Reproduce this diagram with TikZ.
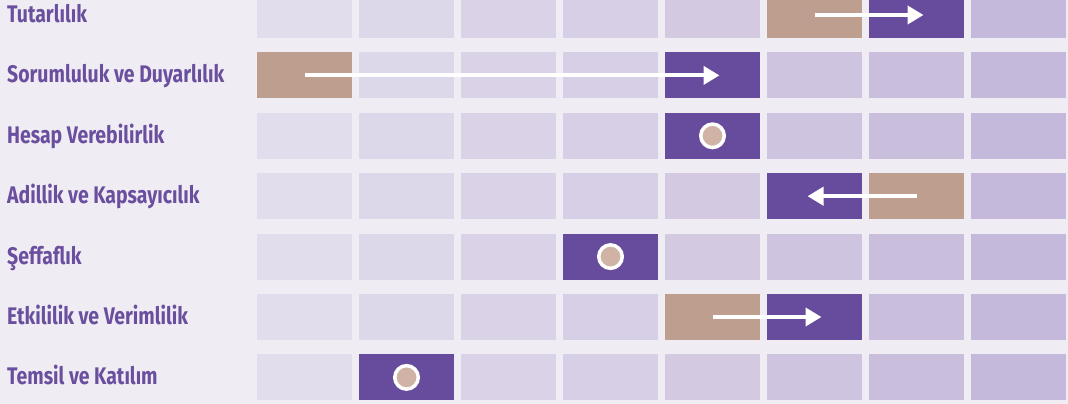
\documentclass[tikz,border=0pt]{standalone}
\usepackage{fontspec}
\newfontfamily\critfont[FakeStretch=0.81]{Fira Sans}
\usetikzlibrary{positioning,arrows.meta}

\definecolor{fond}{HTML}{EFECF4}
\definecolor{accent}{HTML}{674B9C}
\definecolor{brun}{HTML}{BE9E8E}
\definecolor{pastcol}{HTML}{D0B3A5}
\definecolor{textcol}{HTML}{6A4F9E}
\definecolor{col0}{HTML}{E1DDEC}
\definecolor{col1}{HTML}{DDD7EA}
\definecolor{col2}{HTML}{DAD3E7}
\definecolor{col3}{HTML}{D7CFE5}
\definecolor{col4}{HTML}{D3CAE2}
\definecolor{col5}{HTML}{CEC4DF}
\definecolor{col6}{HTML}{C9BFDD}
\definecolor{col7}{HTML}{C4B9DA}

\begin{document}
\begin{tikzpicture}[x=1pt,y=-1pt,
    cell/.style={rectangle,minimum width=95pt,minimum height=46pt,inner sep=0pt},
    critere/.style={anchor=base west,inner sep=0pt,text=textcol,
      font=\critfont\bfseries\fontsize{24}{24}\selectfont},
    fleche/.style={-{Triangle[length=16pt,width=18pt]},line width=4pt,white,shorten >=-7pt},
    pastille/.style={circle,fill=pastcol,draw=white,line width=3.5pt,minimum size=23.5pt,inner sep=0pt}]

\fill[fond] (0,0) rectangle (1068,404);
\useasboundingbox (0,0) rectangle (1068,404);
\clip (0,0) rectangle (1068,404);

% Criteres
\foreach \r/\txt in {0/Tutarlılık, 1/Sorumluluk ve Duyarlılık, 2/Hesap Verebilirlik,
    3/Adillik ve Kapsayıcılık, 4/Şeffaflık, 5/Etkililik ve Verimlilik, 6/Temsil ve Katılım}
  \node[critere] (crit-\r) at (7,{22.5+60.4*\r}) {\txt};

% Grille
\foreach \r in {0,...,6}
  \foreach \c in {0,...,7}
    \node[cell,fill=col\c] (c-\r-\c) at ({304.5+102*\c},{15+60.4*\r}) {};

% Tutarlilik
\node[cell,fill=brun] (tut-a) at (c-0-5) {};
\node[cell,fill=accent] (tut-b) at (c-0-6) {};
\draw[fleche] (tut-a.center) -- (tut-b.center);

% Sorumluluk ve Duyarlilik
\node[cell,fill=brun] (sor-a) at (c-1-0) {};
\node[cell,fill=accent] (sor-b) at (c-1-4) {};
\draw[fleche] (sor-a.center) -- (sor-b.center);

% Hesap Verebilirlik
\node[cell,fill=accent] (hes) at (c-2-4) {};
\node[pastille] (hes-p) at (hes) {};

% Adillik ve Kapsayicilik
\node[cell,fill=brun] (adi-a) at (c-3-6) {};
\node[cell,fill=accent] (adi-b) at (c-3-5) {};
\draw[fleche] (adi-a.center) -- (adi-b.center);

% Seffaflik
\node[cell,fill=accent] (sef) at (c-4-3) {};
\node[pastille] (sef-p) at (sef) {};

% Etkililik ve Verimlilik
\node[cell,fill=brun] (etk-a) at (c-5-4) {};
\node[cell,fill=accent] (etk-b) at (c-5-5) {};
\draw[fleche] (etk-a.center) -- (etk-b.center);

% Temsil ve Katilim
\node[cell,fill=accent] (tem) at (c-6-1) {};
\node[pastille] (tem-p) at (tem) {};

\end{tikzpicture}
\end{document}
